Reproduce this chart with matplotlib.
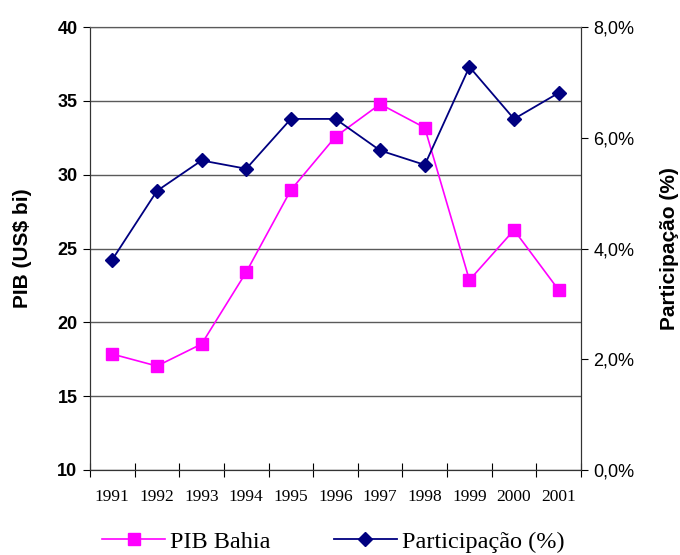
import matplotlib.pyplot as plt
from matplotlib.ticker import FuncFormatter, FixedLocator

# Data
anos = ['1991', '1992', '1993', '1994', '1995', '1996', '1997', '1998', '1999', '2000', '2001']
pib_bahia = [17.85, 17.04, 18.53, 23.4, 28.96, 32.57, 34.78, 33.18, 22.86, 26.25, 22.19]
participacao = [3.80, 5.04, 5.59, 5.44, 6.34, 6.34, 5.77, 5.51, 7.28, 6.34, 6.81]

x = list(range(len(anos)))

fig = plt.figure(figsize=(6.8, 5.55), dpi=100)
ax = fig.add_axes([90 / 680, 85 / 555, 491 / 680, 443 / 555])
ax2 = ax.twinx()

# PIB on left axis
p, = ax.plot(x, pib_bahia, color='#FF00FF', marker='s', markersize=8.5, lw=1.2,
             label='PIB Bahia')
ax.set_ylim(10, 40)
ax.set_yticks(range(10, 41, 5))
ax.set_xlim(-0.5, len(anos) - 0.5)
ax.yaxis.grid(True, color='#5a5a5a', lw=1)
ax.set_axisbelow(True)

# Participação on right axis
q, = ax2.plot(x, participacao, color='#000080', marker='D', markersize=7.5, lw=1.3,
              label='Participação (%)')
ax2.set_ylim(0, 8)
ax2.set_yticks([0, 2, 4, 6, 8])
ax2.yaxis.set_major_formatter(FuncFormatter(lambda v, pos: ('%.1f%%' % v).replace('.', ',')))

# Axes styling
ax.set_xticks(x)
ax.set_xticklabels(anos, family='Liberation Serif', fontsize=12.5)
ax.tick_params(axis='x', which='major', length=0, pad=14)
ax.xaxis.set_minor_locator(FixedLocator([i + 0.5 for i in range(-1, len(anos))]))
ax.tick_params(axis='x', which='minor', direction='inout', length=10, width=0.8)
ax.tick_params(axis='y', direction='out', length=5, width=0.8, pad=4)
for lab in ax.get_yticklabels():
    lab.set_family('Liberation Sans')
    lab.set_fontweight('bold')
    lab.set_fontsize(13)
ax2.tick_params(axis='y', direction='out', length=5, width=0.8, pad=4)
for lab in ax2.get_yticklabels():
    lab.set_family('Liberation Sans')
    lab.set_fontsize(13)

for a in (ax, ax2):
    a.spines['top'].set_color('#5a5a5a')
    a.spines['left'].set_color('#333333')
    a.spines['right'].set_color('#333333')
    a.spines['bottom'].set_color('#333333')

ax.set_ylabel('PIB (US$ bi)', family='Liberation Sans', fontweight='bold', fontsize=15, labelpad=18)
ax2.set_ylabel('Participação (%)', family='Liberation Sans', fontweight='bold', fontsize=15,
               rotation=90, labelpad=18)

fig.legend([p, q], ['PIB Bahia', 'Participação (%)'], loc='lower center',
           bbox_to_anchor=(0.49, -0.035), ncol=2, frameon=False,
           prop={'family': 'Liberation Serif', 'size': 17.5},
           handlelength=2.6, columnspacing=2.6, handletextpad=0.2)

fig.savefig('out.png', dpi=100)
